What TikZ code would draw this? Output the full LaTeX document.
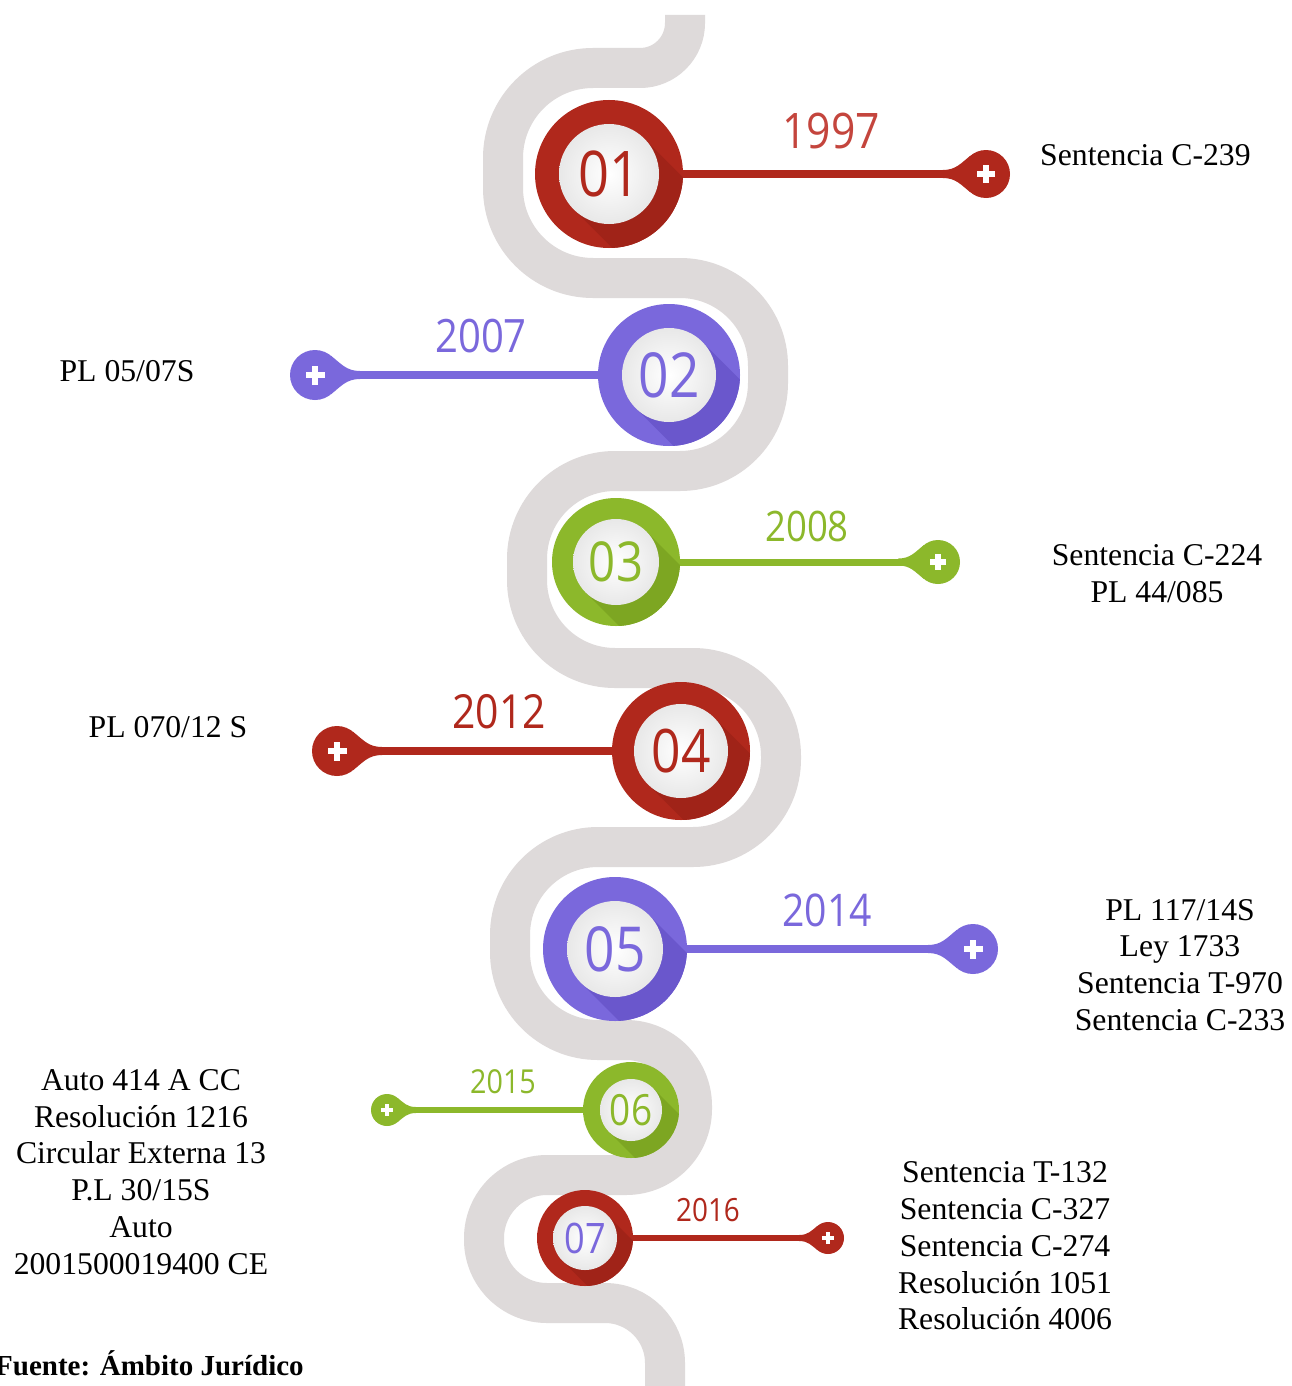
\documentclass[tikz,border=0pt]{standalone}
\usepackage{fontspec}
\usepackage{graphicx}
\setmainfont{Liberation Serif}
\newfontfamily\numfont{Open Sans}
\definecolor{tred}{HTML}{B0281C}
\definecolor{tredd}{HTML}{A02318}
\definecolor{tredl}{HTML}{C4453D}
\definecolor{tpur}{HTML}{7A68DC}
\definecolor{tpurd}{HTML}{6A57CC}
\definecolor{tgrn}{HTML}{8CB82B}
\definecolor{tgrnd}{HTML}{7DA622}
\definecolor{tgray}{HTML}{DEDADA}
\newcommand\mstone[9]{%
  \node[circle, inner sep=0pt, minimum size=2*#3, fill=#5] (#1) at #2 {};
  \begin{scope}
    \clip (#1.center) circle (#3);
    \fill[#6, shift={(#1.center)}] ({0.707*#4},{-0.707*#4}) -- ++(200,200) -- ({-0.707*#4+200},{0.707*#4+200}) -- ({-0.707*#4},{0.707*#4}) -- cycle;
  \end{scope}
  \node[circle, inner sep=0pt, minimum size=2*#4, shade, inner color=white, outer color=black!9] (#1in) at (#1.center)
     {\numfont\fontsize{#8}{#8}\selectfont\color{#7}\scalebox{0.86}[1]{#9}};
}
\newcommand\pmark[6]{%
  \node[circle, inner sep=0pt, minimum size=2*#3, fill=#4] (#1) at #2 {};
  \fill[#4, shift={(#1.center)}, xscale=#5] ({-0.643*#3},{-0.766*#3}) .. controls ({-1.05*#3},{-0.45*#3}) and ({-1.25*#3},{-#6/2}) .. ({-1.8*#3},{-#6/2}) -- ({-1.8*#3},{#6/2}) .. controls ({-1.25*#3},{#6/2}) and ({-1.05*#3},{0.45*#3}) .. ({-0.643*#3},{0.766*#3}) -- cycle;
  \fill[white, shift={(#1.center)}] ({-0.38*#3},{-0.13*#3}) rectangle ({0.38*#3},{0.13*#3});
  \fill[white, shift={(#1.center)}] ({-0.13*#3},{-0.38*#3}) rectangle ({0.13*#3},{0.38*#3});
}
\newcommand\yr[2]{\fontsize{#1}{#1}\selectfont\scalebox{0.87}[1]{#2}}
\tikzset{
  yrs/.style={font=\numfont, inner sep=0pt},
  txt/.style={font=\fontsize{31.7}{36.8}\selectfont, align=center, inner sep=0pt},
  conn/.style={line width=#1, line cap=butt},
}
\begin{document}
\begin{tikzpicture}[x=1pt,y=-1pt]
\useasboundingbox (0,0) rectangle (1291,1386);
\fill[white] (0,0) rectangle (1291,1386);
% winding road
\draw[tgray, line width=40]
 (685,15) -- (685,23) arc(0:90:45) -- (593,68) arc(-90:-180:90) -- (503,188) arc(180:90:90)
 -- (680,278) arc(-90:0:88) -- (768,383) arc(0:90:88) -- (615,471) arc(-90:-180:88)
 -- (527,580) arc(180:90:88) -- (693,668) arc(-90:0:88) -- (781,759) arc(0:90:88)
 -- (598,847) arc(-90:-180:88) -- (510,952) arc(180:90:88) -- (626,1040) arc(-90:0:66)
 -- (692,1109) arc(0:90:66) -- (547,1175) arc(-90:-180:63) -- (484,1240) arc(180:90:63)
 -- (605,1303) arc(-90:0:60) -- (665,1400);
% milestones
\mstone{c1}{(609,174)}{74}{50}{tred}{tredd}{tred}{63}{01}
\mstone{c2}{(669,375)}{71}{47}{tpur}{tpurd}{tpur}{62}{02}
\mstone{c3}{(616,562)}{64}{43}{tgrn}{tgrnd}{tgrn}{55}{03}
\mstone{c4}{(681,751)}{69}{47}{tred}{tredd}{tred}{60}{04}
\mstone{c5}{(615,949)}{72}{48}{tpur}{tpurd}{tpur}{62}{05}
\mstone{c6}{(631,1110)}{48}{31}{tgrn}{tgrnd}{tgrn}{43}{06}
\mstone{c7}{(585,1238)}{48}{32}{tred}{tredd}{tpur}{42}{07}
% markers
\pmark{p1}{(986,174)}{24}{tred}{1}{8}
\pmark{p2}{(315,375)}{25}{tpur}{-1}{8}
\pmark{p3}{(938,562)}{22}{tgrn}{1}{7}
\pmark{p4}{(337,751)}{25}{tred}{-1}{8}
\pmark{p5}{(973,949)}{25}{tpur}{1}{8}
\pmark{p6}{(387,1110)}{16}{tgrn}{-1}{6}
\pmark{p7}{(828,1238)}{16}{tred}{1}{6}
% connectors
\draw[tred, conn=8] (c1) -- (p1);
\draw[tpur, conn=8] (c2) -- (p2);
\draw[tgrn, conn=7] (c3) -- (p3);
\draw[tred, conn=8] (c4) -- (p4);
\draw[tpur, conn=8] (c5) -- (p5);
\draw[tgrn, conn=6] (c6) -- (p6);
\draw[tred, conn=6] (c7) -- (p7);
% years
\node[yrs, tredl] (y1) at (831,131) {\yr{49}{1997}};
\node[yrs, tpur] (y2) at (481,336) {\yr{46}{2007}};
\node[yrs, tgrn] (y3) at (807,526) {\yr{42}{2008}};
\node[yrs, tred] (y4) at (499,712) {\yr{47}{2012}};
\node[yrs, tpur] (y5) at (827,910) {\yr{45}{2014}};
\node[yrs, tgrn] (y6) at (503,1082) {\yr{33}{2015}};
\node[yrs, tred] (y7) at (708,1210) {\yr{32}{2016}};
% texts
\node[txt, anchor=west] (s1) at (1040,155) {Sentencia C-239};
\node[txt] (s2) at (127,371) {PL 05/07S};
\node[txt] (s3) at (1157,574) {Sentencia C-224\\PL 44/085};
\node[txt] (s4) at (168,727) {PL 070/12 S};
\node[txt] (s5) at (1180,965) {PL 117/14S\\Ley 1733\\Sentencia T-970\\Sentencia C-233};
\node[txt] (s6) at (141,1172) {Auto 414 A CC\\Resolución 1216\\Circular Externa 13\\P.L 30/15S\\Auto\\2001500019400 CE};
\node[txt] (s7) at (1005,1246) {Sentencia T-132\\Sentencia C-327\\Sentencia C-274\\Resolución 1051\\Resolución 4006};
\node[txt, font=\fontsize{29}{34}\selectfont\bfseries, anchor=west] (src) at (-5,1363) {Fuente: Ámbito Jurídico};
\end{tikzpicture}
\end{document}
